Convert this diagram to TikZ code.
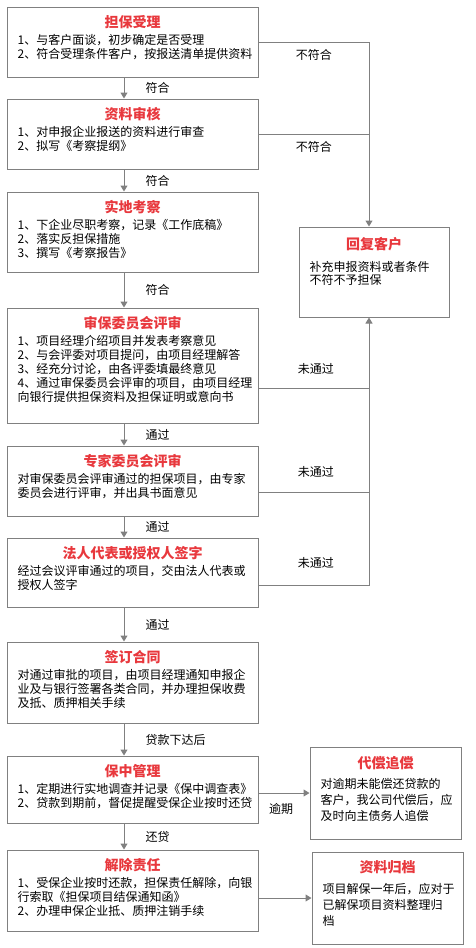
\documentclass[tikz,border=0pt]{standalone}
\usepackage{fontspec}
\setmainfont{Noto Sans CJK SC}
\usetikzlibrary{arrows.meta,positioning}
\definecolor{titlered}{HTML}{E8383D}
\definecolor{linegray}{HTML}{808080}
\tikzset{
  stepbox/.style={draw=linegray, line width=1pt, minimum width=251pt, inner sep=0pt},
  sidebox/.style={draw=linegray, line width=1pt, minimum width=151pt, inner sep=0pt},
  steptitle/.style={text=titlered, font=\bfseries\fontsize{14}{16}\selectfont, inner sep=0pt},
  stepbody/.style={anchor=north west, align=left, inner sep=0pt, font=\fontsize{12}{14}\selectfont},
  note/.style={inner sep=0pt, font=\fontsize{12}{14}\selectfont},
  arr/.style={draw=linegray, line width=1pt, -{Triangle[width=7pt,length=6pt]}},
  link/.style={draw=linegray, line width=1pt},
}
\begin{document}
\begin{tikzpicture}[x=1pt, y=-1pt]
\useasboundingbox (0,0) rectangle (476,948);
\coordinate (spine) at (124,0);
\coordinate (spineR) at (369,0);
% Columna principal
\node[stepbox, minimum height=70pt] (shouli) at (132.5,42) {};
\node[steptitle] (shouli-t) at ([yshift=-15.5pt]shouli.north) {担保受理};
\node[stepbody] (shouli-b) at ([xshift=11pt,yshift=-28pt]shouli.north west) {1、与客户面谈，初步确定是否受理\\2、符合受理条件客户，按报送清单提供资料};
\node[stepbox, minimum height=70pt] (shenhe) at (132.5,134) {};
\node[steptitle] (shenhe-t) at ([yshift=-15.5pt]shenhe.north) {资料审核};
\node[stepbody] (shenhe-b) at ([xshift=11pt,yshift=-28pt]shenhe.north west) {1、对申报企业报送的资料进行审查\\2、拟写《考察提纲》};
\node[stepbox, minimum height=80pt] (kaocha) at (132.5,232) {};
\node[steptitle] (kaocha-t) at ([yshift=-15.5pt]kaocha.north) {实地考察};
\node[stepbody] (kaocha-b) at ([xshift=11pt,yshift=-28pt]kaocha.north west) {1、下企业尽职考察，记录《工作底稿》\\2、落实反担保措施\\3、撰写《考察报告》};
\node[stepbox, minimum height=115pt] (shenbao) at (132.5,365.5) {};
\node[steptitle] (shenbao-t) at ([yshift=-15.5pt]shenbao.north) {审保委员会评审};
\node[stepbody] (shenbao-b) at ([xshift=11pt,yshift=-28pt]shenbao.north west) {1、项目经理介绍项目并发表考察意见\\2、与会评委对项目提问，由项目经理解答\\3、经充分讨论，由各评委填最终意见\\4、通过审保委员会评审的项目，由项目经理\\向银行提供担保资料及担保证明或意向书};
\node[stepbox, minimum height=70pt] (zhuanjia) at (132.5,481) {};
\node[steptitle] (zhuanjia-t) at ([yshift=-15.5pt]zhuanjia.north) {专家委员会评审};
\node[stepbody] (zhuanjia-b) at ([xshift=11pt,yshift=-28pt]zhuanjia.north west) {对审保委员会评审通过的担保项目，由专家\\委员会进行评审，并出具书面意见};
\node[stepbox, minimum height=69pt] (qianzi) at (132.5,572.5) {};
\node[steptitle] (qianzi-t) at ([yshift=-15.5pt]qianzi.north) {法人代表或授权人签字};
\node[stepbody] (qianzi-b) at ([xshift=11pt,yshift=-28pt]qianzi.north west) {经过会议评审通过的项目，交由法人代表或\\授权人签字};
\node[stepbox, minimum height=81pt] (hetong) at (132.5,682.5) {};
\node[steptitle] (hetong-t) at ([yshift=-15.5pt]hetong.north) {签订合同};
\node[stepbody] (hetong-b) at ([xshift=11pt,yshift=-28pt]hetong.north west) {对通过审批的项目，由项目经理通知申报企\\业及与银行签署各类合同，并办理担保收费\\及抵、质押相关手续};
\node[stepbox, minimum height=67pt] (baozhong) at (132.5,789.5) {};
\node[steptitle] (baozhong-t) at ([yshift=-15.5pt]baozhong.north) {保中管理};
\node[stepbody] (baozhong-b) at ([xshift=11pt,yshift=-28pt]baozhong.north west) {1、定期进行实地调查并记录《保中调查表》\\2、贷款到期前，督促提醒受保企业按时还贷};
\node[stepbox, minimum height=81pt] (jiechu) at (132.5,890.5) {};
\node[steptitle] (jiechu-t) at ([yshift=-15.5pt]jiechu.north) {解除责任};
\node[stepbody] (jiechu-b) at ([xshift=11pt,yshift=-28pt]jiechu.north west) {1、受保企业按时还款，担保责任解除，向银\\行索取《担保项目结保通知函》\\2、办理申保企业抵、质押注销手续};
% Cajas laterales
\node[sidebox, minimum width=150pt, minimum height=90pt] (huifu) at (374,272) {};
\node[steptitle] (huifu-t) at ([yshift=-18pt]huifu.north) {回复客户};
\node[stepbody, font=\fontsize{12}{13}\selectfont] (huifu-b) at ([xshift=11pt,yshift=-35pt]huifu.north west) {补充申报资料或者条件\\不符不予担保};
\node[sidebox, minimum height=92pt] (daichang) at (385.5,793) {};
\node[steptitle] (daichang-t) at ([yshift=-17pt]daichang.north) {代偿追偿};
\node[stepbody, font=\fontsize{12}{16}\selectfont] (daichang-b) at ([xshift=11pt,yshift=-32pt]daichang.north west) {对逾期未能偿还贷款的\\客户，我公司代偿后，应\\及时向主债务人追偿};
\node[sidebox, minimum height=92pt] (guidang) at (387.5,898) {};
\node[steptitle] (guidang-t) at ([yshift=-16pt]guidang.north) {资料归档};
\node[stepbody, font=\fontsize{12}{16}\selectfont] (guidang-b) at ([xshift=11pt,yshift=-32pt]guidang.north west) {项目解保一年后，应对于\\已解保项目资料整理归\\档};
% Flechas verticales
\draw[arr] (shouli.south -| spine) -- node[note, right=21pt] {符合} (shenhe.north -| spine);
\draw[arr] (shenhe.south -| spine) -- node[note, right=21pt] {符合} (kaocha.north -| spine);
\draw[arr] (kaocha.south -| spine) -- node[note, right=21pt] {符合} (shenbao.north -| spine);
\draw[arr] (shenbao.south -| spine) -- node[note, right=21pt] {通过} (zhuanjia.north -| spine);
\draw[arr] (zhuanjia.south -| spine) -- node[note, right=21pt] {通过} (qianzi.north -| spine);
\draw[arr] (qianzi.south -| spine) -- node[note, right=21pt] {通过} (hetong.north -| spine);
\draw[arr] (hetong.south -| spine) -- node[note, right=21pt] {贷款下达后} (baozhong.north -| spine);
\draw[arr] (baozhong.south -| spine) -- node[note, right=21pt] {还贷} (jiechu.north -| spine);
% Rechazos hacia la respuesta al cliente
\draw[arr] (shouli.east) -| node[note, pos=0.25, yshift=-13pt] {不符合} (spineR |- huifu.north);
\draw[link] (shenhe.east) -- node[note, yshift=-13pt] {不符合} (shenhe.east -| spineR);
\draw[link] ([yshift=-23pt]shenbao.east) -- node[note, xshift=2pt, yshift=20pt] {未通过} ([yshift=-23pt]shenbao.east -| spineR);
\draw[link] ([yshift=-11pt]zhuanjia.east) -- node[note, xshift=2pt, yshift=20pt] {未通过} ([yshift=-11pt]zhuanjia.east -| spineR);
\draw[arr] ([yshift=-12.5pt]qianzi.east) -| node[note, pos=0.25, xshift=2pt, yshift=22pt] {未通过} (spineR |- huifu.south);
% Salidas laterales
\draw[arr] (baozhong.east |- daichang.west) -- node[note, xshift=-3pt, yshift=-16pt] {逾期} (daichang.west);
\draw[arr] (jiechu.east |- guidang.west) -- (guidang.west);
\end{tikzpicture}
\end{document}
